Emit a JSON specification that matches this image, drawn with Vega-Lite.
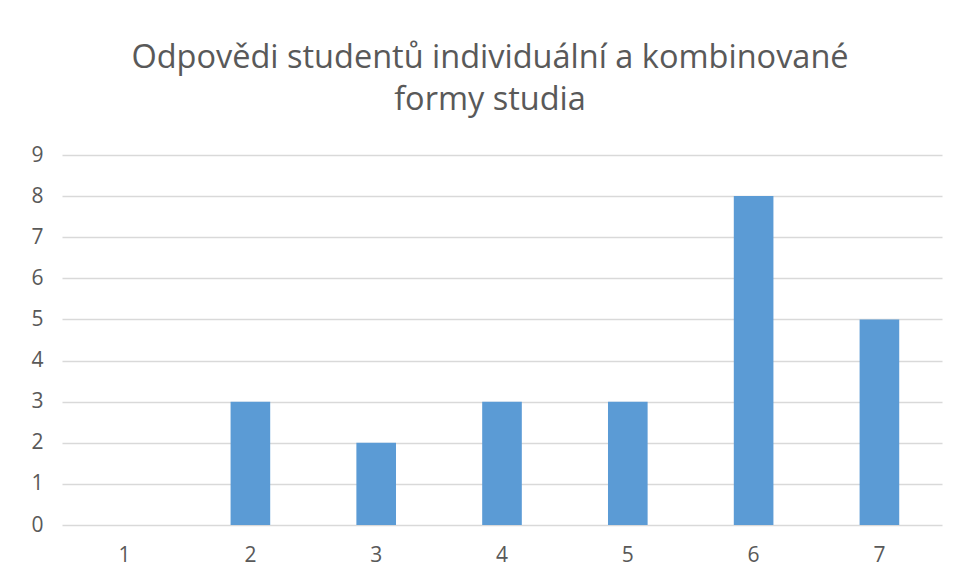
{
  "$schema": "https://vega.github.io/schema/vega-lite/v6.json",
  "width": 880,
  "height": 370,
  "autosize": {"type": "none"},
  "padding": {"left": 62, "top": 155, "right": 17, "bottom": 55},
  "background": "white",
  "title": {
    "text": ["Odpovědi studentů individuální a kombinované", "formy studia"],
    "font": "Open Sans",
    "fontSize": 32.5,
    "fontWeight": "normal",
    "color": "#595959",
    "lineHeight": 42,
    "anchor": "middle",
    "offset": 28,
    "dx": -12
  },
  "data": {
    "values": [
      {"k": "1", "v": 0},
      {"k": "2", "v": 3},
      {"k": "3", "v": 2},
      {"k": "4", "v": 3},
      {"k": "5", "v": 3},
      {"k": "6", "v": 8},
      {"k": "7", "v": 5}
    ]
  },
  "mark": {"type": "bar", "color": "#5b9bd5"},
  "encoding": {
    "x": {
      "field": "k",
      "type": "ordinal",
      "scale": {"paddingInner": 0.685, "paddingOuter": 0.34},
      "axis": {
        "title": null,
        "labelAngle": 0,
        "ticks": false,
        "domain": false,
        "labelPadding": 19,
        "labelFont": "Open Sans",
        "labelFontSize": 21,
        "labelColor": "#595959"
      }
    },
    "y": {
      "field": "v",
      "type": "quantitative",
      "scale": {"domain": [0, 9], "nice": false},
      "axis": {
        "title": null,
        "values": [0, 1, 2, 3, 4, 5, 6, 7, 8, 9],
        "labelOverlap": false,
        "ticks": false,
        "domain": false,
        "labelPadding": 19,
        "labelFont": "Open Sans",
        "labelFontSize": 21,
        "labelColor": "#595959",
        "gridColor": "#d9d9d9",
        "gridWidth": 1.3
      }
    }
  },
  "config": {"view": {"stroke": null}}
}
